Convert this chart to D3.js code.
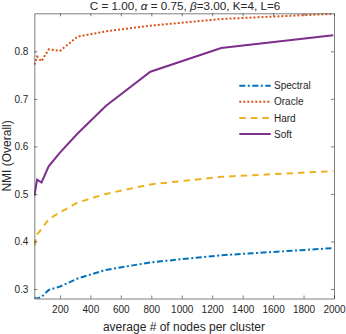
<!DOCTYPE html>
<html>
<head>
<meta charset="utf-8">
<script src="https://cdn.jsdelivr.net/npm/d3@7"></script>
<style>
  body { margin: 0; background: #fff; }
  text { font-family: "Liberation Sans", Arial, sans-serif; fill: #262626; }
</style>
</head>
<body>
<div id="chart"></div>
<script>
// x: average # of nodes per cluster (log-spaced)
const nodes = [32, 50, 79, 126, 200, 316, 501, 794, 1259, 1995];
const spectral = [0.281, 0.280, 0.283, 0.298, 0.305, 0.322, 0.340, 0.356, 0.371, 0.386];
const oracle   = [0.772, 0.789, 0.779, 0.804, 0.801, 0.831, 0.842, 0.854, 0.868, 0.879];
const hard     = [0.391, 0.415, 0.426, 0.447, 0.461, 0.482, 0.500, 0.520, 0.536, 0.548];
const soft     = [0.496, 0.530, 0.524, 0.558, 0.587, 0.627, 0.685, 0.757, 0.807, 0.834];
const seriesNames = ["Spectral", "Oracle", "Hard", "Soft"];
const xTicks = [200, 400, 600, 800, 1000, 1200, 1400, 1600, 1800, 2000];
const yTicks = [0.3, 0.4, 0.5, 0.6, 0.7, 0.8];

let draw = function(){
    const width = 346, height = 334;
    const margin = {top: 13.3, right: 12, bottom: 35.5, left: 34.3};

    var svg = d3.select("#chart").append("svg").attr("width", width).attr("height", height);
    var xScale = d3.scaleLinear().domain([31.62, 2000]).range([margin.left, width - margin.right]);
    var yScale = d3.scaleLinear().domain([0.28, 0.88]).range([height - margin.bottom, margin.top]);

    var styles = {
        Spectral: {color: "#0072BD", dash: "6,2.5,2,2.5", data: spectral},
        Oracle:   {color: "#D95319", dash: "2,2",          data: oracle},
        Hard:     {color: "#EDB120", dash: "6.5,5",        data: hard},
        Soft:     {color: "#7E2F8E", dash: null,           data: soft}
    };

    var x0 = margin.left, x1 = width - margin.right, y0 = height - margin.bottom, y1 = margin.top;

    // lines
    var line = d3.line().x((d, i) => xScale(nodes[i])).y(d => yScale(d));
    svg.append("clipPath").attr("id", "clip").append("rect")
        .attr("x", x0).attr("y", y1).attr("width", x1 - x0).attr("height", y0 - y1);
    seriesNames.forEach(function(name){
        var s = styles[name];
        svg.append("path").datum(s.data)
            .attr("clip-path", "url(#clip)")
            .attr("d", line)
            .attr("fill", "none")
            .attr("stroke", s.color)
            .attr("stroke-width", 2)
            .attr("stroke-dasharray", s.dash);
    });

    // axes (box with inward ticks)
    var xAxis = d3.axisBottom(xScale).tickValues(xTicks).tickSizeInner(-3).tickSizeOuter(0).tickPadding(7).tickFormat(d3.format("d"));
    var xTop = d3.axisTop(xScale).tickValues(xTicks).tickSizeInner(-3).tickSizeOuter(0).tickFormat("");
    var yAxis = d3.axisLeft(yScale).tickValues(yTicks).tickSizeInner(-3).tickSizeOuter(0).tickPadding(6).tickFormat(d3.format(".1f"));
    var yRight = d3.axisRight(yScale).tickValues(yTicks).tickSizeInner(-3).tickSizeOuter(0).tickFormat("");

    svg.append("g").attr("class", "axis").attr("transform", "translate(0," + y0 + ")").call(xAxis);
    svg.append("g").attr("class", "axis").attr("transform", "translate(0," + y1 + ")").call(xTop);
    svg.append("g").attr("class", "axis").attr("transform", "translate(" + x0 + ",0)").call(yAxis);
    svg.append("g").attr("class", "axis").attr("transform", "translate(" + x1 + ",0)").call(yRight);
    svg.selectAll(".axis path, .axis line").attr("stroke", "#262626").attr("stroke-width", 0.6);
    svg.selectAll(".axis text").attr("font-size", "10px").attr("font-family", "Liberation Sans, Arial, sans-serif").attr("fill", "#262626");

    // legend
    var lg = svg.append("g");
    seriesNames.forEach(function(name, i){
        var ly = 85.7 + i * 16.1;
        var s = styles[name];
        lg.append("line").attr("x1", 239.3).attr("x2", 270.7).attr("y1", ly).attr("y2", ly)
            .attr("stroke", s.color).attr("stroke-width", 2).attr("stroke-dasharray", s.dash);
        lg.append("text").attr("x", 274).attr("y", ly + 3.6).attr("font-size", "10px").text(name);
    });

    // title and labels
    var title = svg.append("text").attr("x", 185).attr("y", 9.8).attr("text-anchor", "middle").attr("font-size", "11.7px");
    title.append("tspan").text("C = 1.00, ");
    title.append("tspan").attr("font-style", "italic").text("\u03b1");
    title.append("tspan").text(" = 0.75, ");
    title.append("tspan").attr("font-style", "italic").text("\u03b2");
    title.append("tspan").text("=3.00, K=4, L=6");

    svg.append("text").attr("x", 184).attr("y", 331).attr("text-anchor", "middle").attr("font-size", "12px")
        .text("average # of nodes per cluster");
    svg.append("text").attr("transform", "translate(11," + ((y0 + y1) / 2) + ") rotate(-90)")
        .attr("text-anchor", "middle").attr("font-size", "12px").text("NMI (Overall)");
}
draw();
</script>
</body>
</html>
